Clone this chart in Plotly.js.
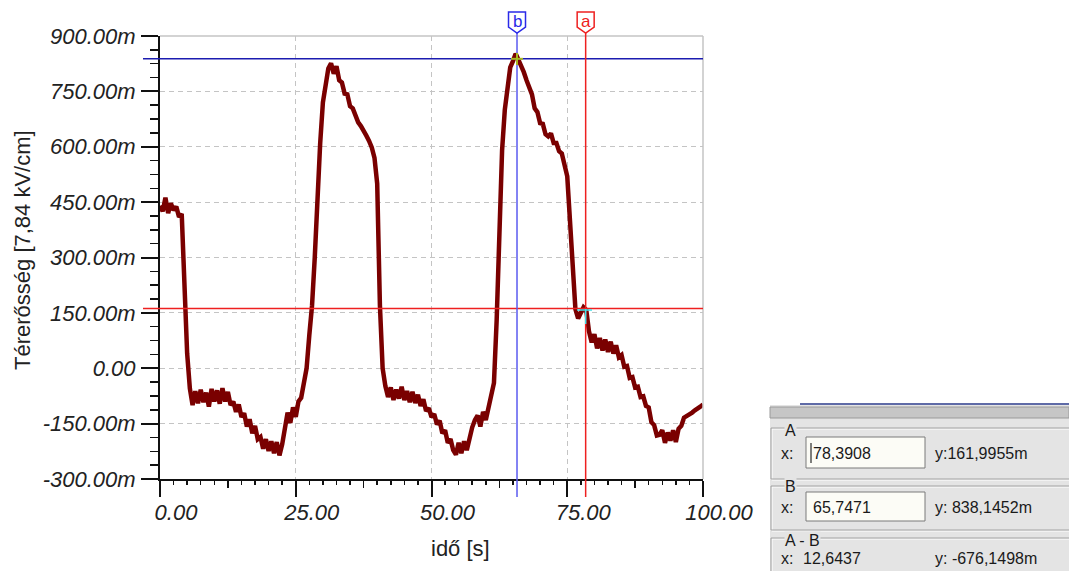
<!DOCTYPE html>
<html>
<head>
<meta charset="utf-8">
<script src="https://cdn.plot.ly/plotly-3.0.1.min.js"></script>
<style>html,body{margin:0;padding:0;background:#fff;}#chart{width:1069px;height:571px;}</style>
</head>
<body>
<div id="chart"></div>
<script>
// ---- data ----
const timeStart = 0;      // s
const timeStep = 0.5;     // s
const fieldValues = [ // milli-units, one every 0.5 s from 0 to 100 s
  440, 425, 462, 420, 447, 428, 438, 410, 418, 250,
  40, -55, -100, -62, -95, -58, -92, -66, -104, -56,
  -90, -60, -96, -54, -90, -64, -100, -90, -118, -98,
  -132, -122, -158, -138, -176, -156, -192, -186, -218, -192,
  -224, -198, -230, -200, -236, -206, -160, -120, -148, -106,
  -132, -90, -80, -40, 0, 90, 170, 300, 470, 610,
  720, 775, 812, 826, 798, 818, 780, 774, 744, 742,
  710, 704, 684, 666, 656, 640, 630, 616, 598, 570,
  500, 170, 0, -48, -78, -52, -86, -58, -82, -50,
  -86, -62, -92, -64, -94, -72, -102, -84, -116, -108,
  -132, -124, -152, -142, -176, -168, -202, -192, -222, -234,
  -202, -230, -198, -222, -188, -160, -140, -128, -158, -118,
  -140, -110, -80, -40, 130, 380, 590, 700, 770, 815,
  832, 852, 836, 820, 802, 780, 756, 742, 704, 694,
  664, 662, 634, 628, 636, 610, 610, 588, 582, 550,
  520, 400, 250, 160, 135, 150, 165, 158, 100, 70,
  92, 54, 82, 48, 78, 44, 72, 40, 62, 30,
  36, 4, 6, -26, -24, -52, -50, -78, -76, -102,
  -106, -146, -154, -182, -180, -168, -202, -174, -196, -168,
  -200, -164, -156, -134, -130, -126, -120, -114, -110, -104,
  -98
];
const xTicks = [0, 25, 50, 75, 100];
const xTickLabels = ['0.00', '25.00', '50.00', '75.00', '100.00'];
const xMidTicks = [12.5, 37.5, 62.5, 87.5];
const yTicks = [-300, -150, 0, 150, 300, 450, 600, 750, 900];
const yTickLabels = ['-300.00m', '-150.00m', '0.00', '150.00m', '300.00m', '450.00m', '600.00m', '750.00m', '900.00m'];
const xTitle = 'idő [s]';
const yTitle = 'Térerősség [7,84 kV/cm]';
const cursorA = {x: 78.3908, y: 161.9955, label: 'a', xText: '78,3908', yText: 'y:161,9955m'};
const cursorB = {x: 65.7471, y: 838.1452, label: 'b', xText: '65,7471', yText: 'y: 838,1452m'};
const diffText = {x: '12,6437', y: 'y: -676,1498m'};

// ---- geometry helpers (pixel -> paper) ----
const L = 160, R = 703, T = 36, B = 479;
const px = x => (x - L) / (R - L);
const py = y => (B - y) / (B - T);

const FONT = 'Liberation Sans, Arial, sans-serif';
const tickFont = {family: FONT, size: 22, style: 'italic', color: '#222'};

const traces = [
  {x0: timeStart, dx: timeStep, y: fieldValues, type: 'scatter', mode: 'lines',
   line: {color: '#7a0000', width: 4.5}, hoverinfo: 'skip', showlegend: false},
  {x0: timeStart, dx: timeStep, y: fieldValues, type: 'scatter', mode: 'none',
   xaxis: 'x2', hoverinfo: 'skip', showlegend: false}
];

const shapes = [];
const annotations = [];
function line(x0, y0, x1, y1, color, width, xref, yref) {
  shapes.push({type: 'line', x0, y0, x1, y1, xref: xref || 'paper', yref: yref || 'paper',
    line: {color, width}, layer: 'above'});
}
function rect(x0, y0, x1, y1, fill, lc, lw) {
  shapes.push({type: 'rect', xref: 'paper', yref: 'paper', x0: px(x0), x1: px(x1), y0: py(y1), y1: py(y0),
    fillcolor: fill || 'rgba(0,0,0,0)', line: {color: lc || 'rgba(0,0,0,0)', width: lw || 0}, layer: 'above'});
}
function text(t, x, y, opts) {
  opts = opts || {};
  annotations.push(Object.assign({text: t, xref: 'paper', yref: 'paper', x: px(x), y: py(y),
    xanchor: 'left', yanchor: 'middle', showarrow: false, borderpad: 0,
    font: {family: FONT, size: 16, color: '#1a1a1a'}}, opts));
}

// plot frame (top / right)
line(0, 1, 1, 1, '#c4c4c4', 1.5);
line(1, 0, 1, 1, '#c4c4c4', 1.5);

// cursor lines
line(px(143), cursorB.y, 1, cursorB.y, '#1c1cb0', 1.5, 'paper', 'y');
line(px(143), cursorA.y, 1, cursorA.y, '#ee2020', 1.5, 'paper', 'y');
line(cursorB.x, py(497), cursorB.x, py(33), '#5a5af0', 1.5, 'x', 'paper');
line(cursorA.x, py(497), cursorA.x, py(33), '#ee2020', 1.5, 'x', 'paper');

// cursor flags
function flag(c, color) {
  const cx = c.x / 100, hw = 8.5 / (R - L);
  const path = `M ${cx - hw} ${py(12)} L ${cx + hw} ${py(12)} L ${cx + hw} ${py(27)} L ${cx} ${py(33)} L ${cx - hw} ${py(27)} Z`;
  shapes.push({type: 'path', xref: 'paper', yref: 'paper', path, fillcolor: '#ffffff',
    line: {color, width: 1.5}, layer: 'above'});
  annotations.push({text: c.label, xref: 'x', yref: 'paper', x: c.x, y: py(21), showarrow: false,
    xanchor: 'center', yanchor: 'middle', font: {family: FONT, size: 17, color}});
}
flag(cursorB, '#2a2ae8');
flag(cursorA, '#ee2020');

// crosshair markers
line(px(511), cursorB.y, px(523), cursorB.y, '#a8b820', 2, 'paper', 'y');
line(cursorB.x, py(53), cursorB.x, py(65), '#a8b820', 2, 'x', 'paper');
line(px(577), py(310), px(592), py(310), '#40e0e8', 1.5, 'paper', 'paper');
line(cursorA.x, py(309), cursorA.x, py(324), '#40e0e8', 1.5, 'x', 'paper');

// axis titles
annotations.push({text: yTitle, xref: 'paper', yref: 'paper', x: px(22), y: py(250), textangle: -90,
  showarrow: false, xanchor: 'center', yanchor: 'middle', font: {family: FONT, size: 22, color: '#222'}});
annotations.push({text: xTitle, xref: 'paper', yref: 'paper', x: px(460), y: py(548),
  showarrow: false, xanchor: 'center', yanchor: 'middle', font: {family: FONT, size: 22, color: '#222'}});

// cursor readout panel
const PBG = '#e4e4e4';
rect(770, 405, 1069, 571, PBG);
line(px(800), py(404), px(1069), py(404), '#2a3a8a', 1.5);
rect(770, 407, 1069, 418, '#c6c6c6', '#9a9a9a', 1);
[[428, 479], [486, 530], [538, 600]].forEach(g => {
  rect(772, g[0] + 1, 1090, g[1] + 1, null, '#ffffff', 1);
  rect(771, g[0], 1090, g[1], null, '#a2a2a2', 1);
});
rect(806, 437, 925, 468, '#fcfcf6', '#7a7a7a', 1);
rect(806, 492, 925, 521, '#fcfcf6', '#7a7a7a', 1);
line(px(811), py(443), px(811), py(463), '#000000', 1);

text('A', 784, 430, {bgcolor: PBG});
text('x:', 780, 453);
text(cursorA.xText, 812, 453);
text(cursorA.yText, 934, 453);
text('B', 784, 486, {bgcolor: PBG});
text('x:', 780, 507);
text(cursorB.xText, 812, 507);
text(cursorB.yText, 934, 507);
text('A - B', 784, 540, {bgcolor: PBG});
text('x:', 780, 558);
text(diffText.x, 802, 558);
text(diffText.y, 934, 558);

const layout = {
  width: 1069, height: 571,
  margin: {l: L, r: 1069 - R, t: T, b: 571 - B, pad: 0},
  paper_bgcolor: '#ffffff', plot_bgcolor: '#ffffff',
  showlegend: false,
  xaxis: {
    range: [0, 100], tickvals: xTicks, ticktext: xTickLabels,
    ticks: 'outside', ticklen: 16, tickwidth: 2, tickcolor: '#111',
    showline: true, linecolor: '#111', linewidth: 2,
    showgrid: true, gridcolor: '#c4c4c4', gridwidth: 1, griddash: '5px,4px', zeroline: false,
    tickfont: tickFont, ticklabelshift: 16, ticklabelstandoff: -3,
    minor: {dtick: 2.5, ticks: 'outside', ticklen: 4, tickwidth: 1.5, tickcolor: '#111', showgrid: false},
    fixedrange: true
  },
  xaxis2: {
    overlaying: 'x', anchor: 'y', side: 'bottom', range: [0, 100], tickvals: xMidTicks,
    ticks: 'outside', ticklen: 8, tickwidth: 1.5, tickcolor: '#111',
    showticklabels: false, showgrid: false, showline: false, zeroline: false, fixedrange: true
  },
  yaxis: {
    range: [-300, 900], tickvals: yTicks, ticktext: yTickLabels,
    ticks: 'outside', ticklen: 17, tickwidth: 2, tickcolor: '#111',
    showline: true, linecolor: '#111', linewidth: 2,
    showgrid: true, gridcolor: '#c4c4c4', gridwidth: 1, griddash: '5px,4px', zeroline: false,
    tickfont: tickFont, ticklabelstandoff: 1,
    minor: {dtick: 37.5, ticks: 'outside', ticklen: 8, tickwidth: 1.5, tickcolor: '#111', showgrid: false},
    fixedrange: true
  },
  shapes, annotations
};

Plotly.newPlot('chart', traces, layout, {staticPlot: true, displayModeBar: false});
</script>
</body>
</html>
